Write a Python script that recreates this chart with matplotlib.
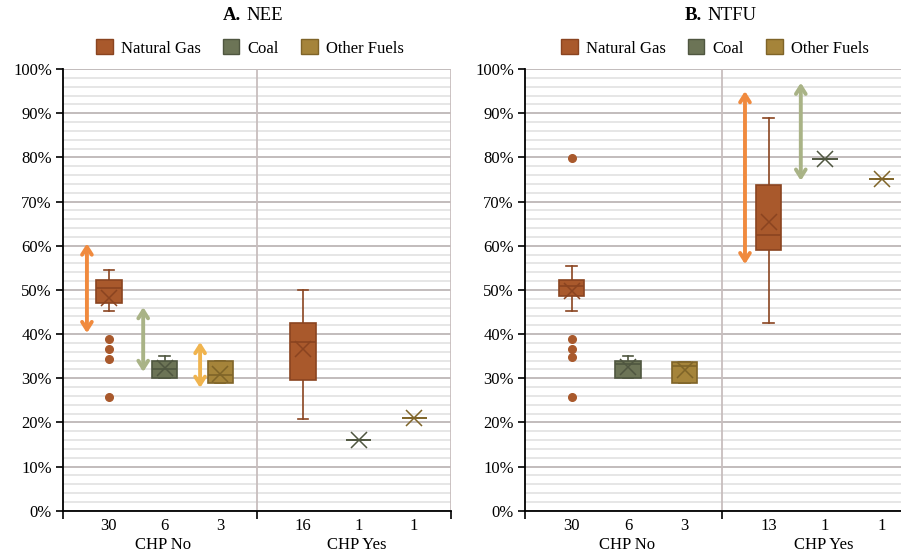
# box plots of NEE / NTFU by fuel type and CHP

import matplotlib
matplotlib.use("Agg")
import matplotlib.pyplot as plt
from matplotlib.patches import Patch
from matplotlib.ticker import PercentFormatter, MultipleLocator
from matplotlib.transforms import blended_transform_factory

plt.rcParams["font.family"] = ["Liberation Serif", "DejaVu Serif"]

fuels = ["Natural Gas", "Coal", "Other Fuels"]
groups = ["CHP No", "CHP Yes"]

# order: NG/Coal/Other for CHP No, then NG/Coal/Other for CHP Yes (values in %)
nee_counts = [30, 6, 3, 16, 1, 1]
nee_whislo = [45.3, 30.0, 28.8, 20.7, 16.1, 20.9]
nee_q1 = [47.1, 30.1, 28.8, 29.5, 16.1, 20.9]
nee_med = [50.5, 32.1, 30.7, 38.2, 16.1, 20.9]
nee_q3 = [52.3, 34.0, 33.8, 42.6, 16.1, 20.9]
nee_whishi = [54.6, 35.0, 33.8, 50.0, 16.1, 20.9]
nee_mean = [48.2, 32.3, 31.0, 36.5, 16.1, 20.9]
nee_fliers = [[38.8, 36.5, 34.3, 25.7], [], [], [], [], []]

ntfu_counts = [30, 6, 3, 13, 1, 1]
ntfu_whislo = [45.3, 30.0, 28.8, 42.5, 79.6, 75.0]
ntfu_q1 = [48.5, 30.1, 28.8, 59.0, 79.6, 75.0]
ntfu_med = [50.8, 33.3, 32.7, 62.4, 79.6, 75.0]
ntfu_q3 = [52.3, 34.0, 33.7, 73.8, 79.6, 75.0]
ntfu_whishi = [55.3, 35.0, 33.7, 88.9, 79.6, 75.0]
ntfu_mean = [49.7, 32.5, 31.8, 65.4, 79.6, 75.0]
ntfu_fliers = [[79.8, 38.8, 36.5, 34.7, 25.7], [], [], [], [], []]

# double arrows: x slot, low, high, fuel index
nee_arrow_x = [0.37, 1.24, 2.12]
nee_arrow_lo = [40.2, 31.4, 27.8]
nee_arrow_hi = [60.5, 46.1, 38.2]
nee_arrow_fuel = [0, 1, 2]

ntfu_arrow_x = [3.35, 4.2]
ntfu_arrow_lo = [55.8, 74.7]
ntfu_arrow_hi = [95.0, 96.9]
ntfu_arrow_fuel = [0, 1]

fill_colors = ["#A9592C", "#6C7456", "#A5843A"]
edge_colors = ["#8A4420", "#4F5640", "#7F6428"]
arrow_colors = ["#F08A3E", "#A9B386", "#F0B44E"]

offsets = [0.71, 1.57, 2.43]
positions = offsets + [3 + o for o in offsets]

W, H = 901, 556
fig = plt.figure(figsize=(W / 100, H / 100), dpi=100)


def draw_panel(ax, counts, whislo, q1, med, q3, whishi, mean, fliers,
               ax_x, ax_lo, ax_hi, ax_fuel):
    stats = []
    for i in range(len(counts)):
        stats.append(dict(whislo=whislo[i], q1=q1[i], med=med[i], q3=q3[i],
                          whishi=whishi[i], mean=mean[i], fliers=fliers[i]))

    ax.set_ylim(0, 100)
    ax.set_xlim(0, 6)
    ax.yaxis.set_major_locator(MultipleLocator(10))
    ax.yaxis.set_minor_locator(MultipleLocator(2))
    ax.yaxis.set_major_formatter(PercentFormatter(decimals=0))
    ax.grid(axis="y", which="minor", color="#E4E4E4", lw=1.3, zorder=0)
    ax.grid(axis="y", which="major", color="#C2BCBC", lw=1.4, zorder=0)
    ax.set_xticks([0, 3, 6])
    ax.set_xticklabels(["", "", ""])
    ax.set_xticks(positions, minor=True)
    ax.set_xticklabels([str(c) for c in counts], minor=True)
    ax.tick_params(axis="x", which="minor", length=0, pad=5, labelsize=12)
    ax.tick_params(axis="x", which="major", length=6, width=1.2, color="black")
    ax.tick_params(axis="y", which="major", length=5, width=1.2, labelsize=12, pad=3)
    ax.tick_params(axis="y", which="minor", length=0)
    ax.set_axisbelow(True)

    # group separators
    for xv in [3, 6]:
        ax.axvline(xv, color="#C8BEBE", lw=1.3, zorder=1)

    for s in ["top", "right"]:
        ax.spines[s].set_visible(False)
    for s in ["left", "bottom"]:
        ax.spines[s].set_color("black")
        ax.spines[s].set_linewidth(1.3)

    bp = ax.bxp(stats, positions=positions, widths=0.39, capwidths=0.16,
                patch_artist=True, showmeans=True, showfliers=True,
                manage_ticks=False)
    for i in range(len(counts)):
        f = i % 3
        box = bp["boxes"][i]
        box.set_facecolor(fill_colors[f])
        box.set_edgecolor(edge_colors[f])
        box.set_linewidth(1.2)
        box.set_zorder(3)
        bp["medians"][i].set_color(edge_colors[f])
        bp["medians"][i].set_linewidth(1.2)
        bp["medians"][i].set_zorder(4)
        for line in bp["whiskers"][2 * i:2 * i + 2] + bp["caps"][2 * i:2 * i + 2]:
            line.set_color(edge_colors[f])
            line.set_linewidth(1.2)
        m = bp["means"][i]
        m.set_marker("x")
        m.set_markersize(11)
        m.set_markeredgecolor(edge_colors[f])
        m.set_markeredgewidth(1.1)
        m.set_zorder(5)
        fl = bp["fliers"][i]
        fl.set_marker("o")
        fl.set_markersize(5.5)
        fl.set_markerfacecolor(fill_colors[f])
        fl.set_markeredgecolor(fill_colors[f])

    for x, lo, hi, f in zip(ax_x, ax_lo, ax_hi, ax_fuel):
        ax.annotate("", xy=(x, hi), xytext=(x, lo),
                    arrowprops=dict(arrowstyle="<->,head_length=0.55,head_width=0.35",
                                    color=arrow_colors[f], lw=2.8,
                                    shrinkA=0, shrinkB=0),
                    zorder=6)

    trans = blended_transform_factory(ax.transData, ax.transAxes)
    for g, name in enumerate(groups):
        ax.text(1.55 + 3 * g, -0.078, name, transform=trans, ha="center",
                va="center", fontsize=12)


ax1 = fig.add_axes([63 / W, 1 - 510.7 / H, 388 / W, 441.7 / H])
draw_panel(ax1, nee_counts, nee_whislo, nee_q1, nee_med, nee_q3, nee_whishi,
           nee_mean, nee_fliers, nee_arrow_x, nee_arrow_lo, nee_arrow_hi,
           nee_arrow_fuel)

ax2 = fig.add_axes([525 / W, 1 - 510.7 / H, 394 / W, 441.7 / H])
draw_panel(ax2, ntfu_counts, ntfu_whislo, ntfu_q1, ntfu_med, ntfu_q3,
           ntfu_whishi, ntfu_mean, ntfu_fliers, ntfu_arrow_x, ntfu_arrow_lo,
           ntfu_arrow_hi, ntfu_arrow_fuel)

# titles: bold letter + normal name
ty = 1 - 15 / H
fig.text(241 / W, ty, "A.", ha="right", va="center", fontsize=13.5, weight="bold")
fig.text(246 / W, ty, "NEE", ha="left", va="center", fontsize=13.5)
fig.text(702 / W, ty, "B.", ha="right", va="center", fontsize=13.5, weight="bold")
fig.text(707 / W, ty, "NTFU", ha="left", va="center", fontsize=13.5)

handles = [Patch(facecolor=fill_colors[i], edgecolor=edge_colors[i], lw=1.0)
           for i in range(3)]
for cx in [250, 715]:
    fig.legend(handles, fuels, loc="center", bbox_to_anchor=(cx / W, 1 - 48 / H),
               ncol=3, frameon=False, fontsize=12, handlelength=1.0,
               handleheight=1.0, handletextpad=0.5, columnspacing=1.3)

fig.savefig("out.png", dpi=100)
